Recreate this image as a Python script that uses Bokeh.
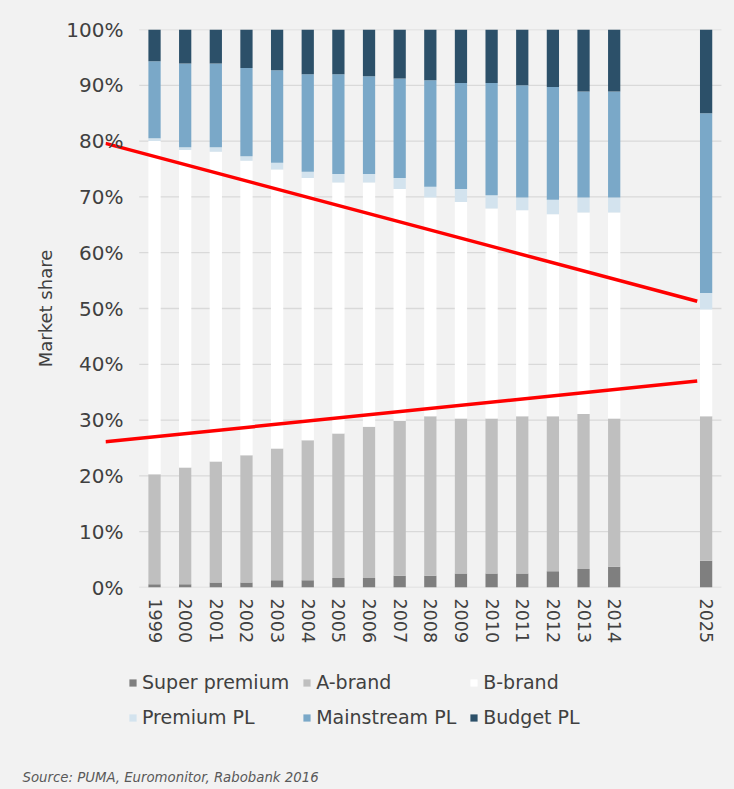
from bokeh.plotting import figure
from bokeh.layouts import column
from bokeh.models import (FactorRange, Range1d, FixedTicker, PrintfTickFormatter, Legend,
                          LegendItem, Title, ColumnDataSource)
from bokeh.embed import file_html
from bokeh.resources import INLINE

# ---------------- data (market share, %) ----------------
years = ["1999", "2000", "2001", "2002", "2003", "2004", "2005", "2006", "2007",
         "2008", "2009", "2010", "2011", "2012", "2013", "2014", "2025"]
lead_slot = ["\u2002"]            # empty slot left of 1999 (where the trend lines start)
gap_slots = [" ", "  "]           # empty slots between 2014 and 2025 on the axis

super_premium = [0.6, 0.6, 0.9, 0.9, 1.3, 1.3, 1.7, 1.7, 2.1, 2.1, 2.5, 2.5, 2.5, 2.9, 3.3, 3.7, 4.8]
a_brand       = [19.7, 20.9, 21.7, 22.8, 23.6, 25.1, 25.9, 27.1, 27.8, 28.6, 27.8, 27.8, 28.2, 27.8, 27.8, 26.6, 25.9]
b_brand       = [59.7, 56.9, 55.5, 52.8, 50.0, 47.0, 45.0, 43.8, 41.5, 39.2, 38.8, 37.6, 36.9, 36.2, 36.1, 36.9, 19.1]
premium_pl    = [0.5, 0.5, 0.8, 0.8, 1.2, 1.1, 1.5, 1.5, 2.0, 1.9, 2.3, 2.4, 2.3, 2.6, 2.7, 2.7, 3.0]
mainstream_pl = [13.8, 15.0, 15.0, 15.8, 16.6, 17.5, 17.9, 17.5, 17.8, 19.1, 19.0, 20.1, 20.1, 20.2, 19.0, 19.0, 32.2]
budget_pl     = [5.7, 6.1, 6.1, 6.9, 7.3, 8.0, 8.0, 8.4, 8.8, 9.1, 9.6, 9.6, 10.0, 10.3, 11.1, 11.1, 15.0]

series_names = ["Super premium", "A-brand", "B-brand", "Premium PL", "Mainstream PL", "Budget PL"]
series_keys = ["sp", "ab", "bb", "ppl", "mpl", "bpl"]
colors = ["#7f7f7f", "#bfbfbf", "#ffffff", "#d3e3ee", "#7aa8c8", "#2c5069"]

# red trend lines: x in axis slot units (start of axis .. just before 2025), y in %
trend_x = [-0.1, 19.21]
trend_upper = [79.6, 51.3]
trend_lower = [26.1, 37.0]

y_ticks = list(range(0, 101, 10))
source_text = "Source: PUMA,  Euromonitor, Rabobank 2016"

# ---------------- main figure ----------------
factors = lead_slot + years[:16] + gap_slots + years[16:]
BG = "#f2f2f2"
TXT = "#404040"
LEFT, RIGHT = 105, 10

p = figure(width=734, height=655, output_backend="svg", toolbar_location=None,
           x_range=FactorRange(factors=factors, range_padding=0.1, range_padding_units="absolute"),
           y_range=Range1d(0, 100),
           min_border_left=LEFT, min_border_right=RIGHT, min_border_top=29, min_border_bottom=68)
p.background_fill_color = BG
p.border_fill_color = BG
p.outline_line_color = None

# horizontal gridlines only across the bar slots (1999 .. 2025)
p.xgrid.visible = False
p.ygrid.visible = False
first_slot = len(lead_slot)
last_slot = len(factors)
p.segment(x0=[first_slot] * len(y_ticks), x1=[last_slot] * len(y_ticks), y0=y_ticks, y1=y_ticks,
          line_color="#d9d9d9", line_width=1.3, level="underlay")

src = ColumnDataSource(dict(year=years, sp=super_premium, ab=a_brand, bb=b_brand,
                            ppl=premium_pl, mpl=mainstream_pl, bpl=budget_pl))
p.vbar_stack(series_keys, x="year", width=0.4, source=src, color=colors, line_color=None)

for ys in (trend_upper, trend_lower):
    p.line(x=trend_x, y=ys, line_color="#ff0000", line_width=3.5)

p.yaxis.ticker = FixedTicker(ticks=y_ticks)
p.yaxis.formatter = PrintfTickFormatter(format="%d%%")
for ax in (p.xaxis[0], p.yaxis[0]):
    ax.axis_line_color = None
    ax.major_tick_line_color = None
    ax.minor_tick_line_color = None
    ax.major_tick_out = 0
    ax.major_tick_in = 0
    ax.major_label_text_font = "DejaVu Sans"
    ax.major_label_text_color = TXT
p.yaxis.major_label_text_font_size = "20px"
p.yaxis.major_label_standoff = -18
p.yaxis.axis_label = "Market share"
p.yaxis.axis_label_text_font = "DejaVu Sans"
p.yaxis.axis_label_text_font_size = "18px"
p.yaxis.axis_label_text_font_style = "normal"
p.yaxis.axis_label_text_color = TXT
p.yaxis.axis_label_standoff = 7
p.xaxis.major_label_orientation = "vertical"
p.xaxis.major_label_text_font_size = "17.5px"
p.xaxis.major_label_standoff = 11

# ---------------- legend + source strip ----------------
lf = figure(width=734, height=134, output_backend="svg", toolbar_location=None,
            x_range=Range1d(0, 1), y_range=Range1d(0, 1),
            x_axis_type=None, y_axis_type=None,
            min_border_left=LEFT, min_border_right=RIGHT, min_border_top=0, min_border_bottom=22)
lf.background_fill_color = BG
lf.border_fill_color = BG
lf.outline_line_color = None
lf.xgrid.visible = False
lf.ygrid.visible = False

# zero-size placeholder keys so that the legend can show each series' colour swatch
key_src = ColumnDataSource(dict(x=[0], top=[0]))
key_renderers = [lf.vbar(x="x", top="top", width=0, source=key_src, color=c, line_color=None)
                 for c in colors]
legend = Legend(items=[LegendItem(label=n, renderers=[r]) for n, r in zip(series_names, key_renderers)],
                orientation="horizontal", ncols=3, location=(128 - LEFT, 39),
                glyph_width=9, glyph_height=9, label_standoff=5, spacing=13,
                label_text_font="DejaVu Sans", label_text_font_size="19px",
                label_text_color=TXT, background_fill_alpha=0, border_line_color=None,
                padding=0, margin=0)
lf.add_layout(legend, "center")

lf.add_layout(Title(text=source_text, align="left", offset=22 - LEFT, standoff=0,
                    text_font="DejaVu Sans", text_font_style="italic", text_font_size="13.3px",
                    text_color="#595959"), "below")

layout = column(p, lf, spacing=0, styles={"background-color": BG})
open("out.html", "w").write(file_html(layout, INLINE))
